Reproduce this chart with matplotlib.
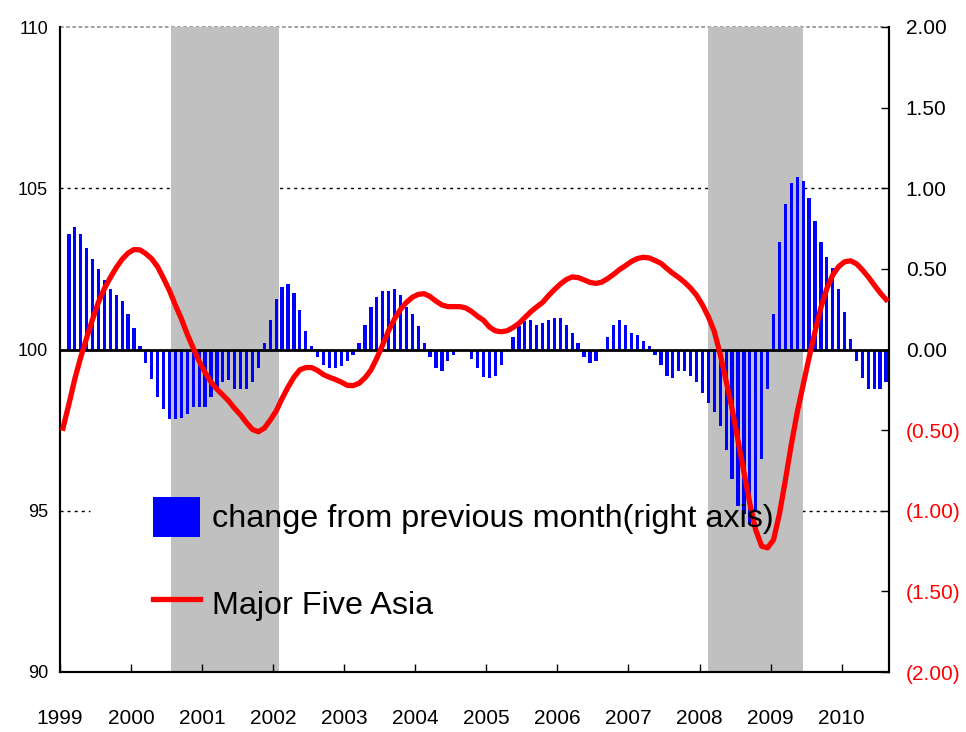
import matplotlib
matplotlib.use('Agg')
import matplotlib.pyplot as plt
from matplotlib.patches import Patch
from matplotlib.lines import Line2D
import numpy as np

# monthly data, Jan 1999 .. Aug 2010
years = [str(y) for y in range(1999, 2011)]
# Major Five Asia index (left axis)
asia_index = [
    97.56, 98.30, 99.09, 99.76, 100.36, 100.94, 101.47, 101.89, 102.23, 102.54, 102.80, 102.99,
    103.10, 103.09, 102.97, 102.81, 102.56, 102.20, 101.82, 101.37, 100.95, 100.47, 100.04, 99.64,
    99.29, 98.99, 98.77, 98.59, 98.40, 98.17, 97.97, 97.73, 97.52, 97.45, 97.56, 97.81,
    98.09, 98.48, 98.83, 99.14, 99.37, 99.44, 99.44, 99.35, 99.22, 99.14, 99.07, 98.99,
    98.89, 98.88, 98.95, 99.12, 99.36, 99.73, 100.15, 100.59, 100.95, 101.24, 101.46, 101.62,
    101.71, 101.73, 101.64, 101.50, 101.38, 101.33, 101.33, 101.33, 101.29, 101.18, 101.03, 100.91,
    100.70, 100.58, 100.55, 100.58, 100.68, 100.81, 100.99, 101.17, 101.32, 101.46, 101.67, 101.86,
    102.03, 102.17, 102.25, 102.23, 102.16, 102.08, 102.05, 102.09, 102.20, 102.33, 102.48, 102.60,
    102.73, 102.82, 102.86, 102.84, 102.76, 102.67, 102.51, 102.36, 102.23, 102.08, 101.90, 101.68,
    101.38, 101.01, 100.56, 99.85, 99.02, 98.16, 97.18, 96.20, 95.22, 94.40, 93.90, 93.85,
    94.10, 94.90, 95.95, 97.05, 98.05, 98.90, 99.75, 100.55, 101.30, 101.89, 102.31, 102.57,
    102.72, 102.75, 102.66, 102.47, 102.25, 102.00, 101.76, 101.55]
# change from previous month (right axis), Feb 1999 .. Aug 2010
monthly_change = [
    0.717, 0.761, 0.717, 0.630, 0.562, 0.500, 0.432, 0.376, 0.339, 0.302, 0.221,
    0.134, 0.023, -0.083, -0.186, -0.294, -0.368, -0.434, -0.434, -0.422, -0.397, -0.356, -0.356,
    -0.356, -0.294, -0.246, -0.200, -0.188, -0.244, -0.244, -0.244, -0.200, -0.114, 0.039, 0.182,
    0.312, 0.387, 0.405, 0.349, 0.244, 0.114, 0.021, -0.045, -0.095, -0.114, -0.114, -0.100,
    -0.070, -0.035, 0.038, 0.150, 0.262, 0.323, 0.361, 0.361, 0.373, 0.336, 0.262, 0.218,
    0.144, 0.038, -0.049, -0.116, -0.134, -0.072, -0.035, 0.0, 0.0, -0.060, -0.116, -0.168,
    -0.178, -0.165, -0.098, 0.0, 0.077, 0.147, 0.175, 0.181, 0.150, 0.162, 0.181, 0.193,
    0.193, 0.150, 0.100, 0.038, -0.047, -0.085, -0.072, 0.0, 0.077, 0.150, 0.182, 0.151,
    0.102, 0.089, 0.054, 0.023, -0.033, -0.095, -0.163, -0.176, -0.132, -0.132, -0.163, -0.200,
    -0.269, -0.331, -0.387, -0.473, -0.622, -0.802, -0.970, -1.020, -1.080, -1.000, -0.680, -0.245,
    0.221, 0.668, 0.903, 1.034, 1.071, 1.046, 0.941, 0.798, 0.668, 0.575, 0.506, 0.376,
    0.234, 0.066, -0.070, -0.176, -0.244, -0.244, -0.244, -0.200]
# recession periods (month index start/end)
recessions = [(18.2, 36.5), (108.85, 125.05)]
right_ticks = [-2.0, -1.5, -1.0, -0.5, 0.0, 0.5, 1.0, 1.5, 2.0]
left_ticks = [90, 95, 100, 105, 110]

plt.rcParams['font.family'] = ['Liberation Sans', 'DejaVu Sans']

fig = plt.figure(figsize=(9.66, 7.32), dpi=100)
ax = fig.add_axes([60/966, 60/732, 829/966, 645/732])   # bars, right scale
ax2 = ax.twinx()                                          # line, left scale

x_line = np.arange(len(asia_index))
x_bar = np.arange(1, len(monthly_change)+1)

# grid lines (dotted), interrupted by bands and legend
ax.axhline(1.0, color='black', lw=1.0, dashes=(2.2, 2.9), zorder=0.5)
ax.axhline(-1.0, xmin=0, xmax=0.036, color='black', lw=1.0, dashes=(2.2, 2.9), zorder=0.5)
ax.axhline(-1.0, xmin=0.895, xmax=1, color='black', lw=1.0, dashes=(2.2, 2.9), zorder=0.5)
ax.axhline(2.0, color='#909090', lw=1.2, dashes=(2.2, 1.5), zorder=0.5, clip_on=False)

for a, b in recessions:
    ax.axvspan(a, b, color='#c0c0c0', lw=0, zorder=1)

ax.bar(x_bar, monthly_change, width=0.55, color='#0000ff', lw=0, zorder=2)
ax.axhline(0, color='black', lw=2.0, zorder=3)

ax2.plot(x_line, asia_index, color='#ff0000', lw=3.8, zorder=5)

ax.set_xlim(-0.5, len(asia_index)-0.5)
ax.set_ylim(-2, 2)
ax2.set_ylim(90, 110)

# x axis
xt = [12*k - 0.5 for k in range(len(years))]
ax.set_xticks(xt)
ax.set_xticklabels(years, fontsize=15)
ax.tick_params(axis='x', direction='in', length=6, width=1.0, pad=27)

# right axis labels: negatives in red with brackets
ax.yaxis.tick_right()
ax.set_yticks(right_ticks)
lab = []
for v in right_ticks:
    if v < 0:
        lab.append('({:.2f})'.format(-v))
    else:
        lab.append('{:.2f}'.format(v))
ax.set_yticklabels(lab, fontsize=15)
for t, v in zip(ax.get_yticklabels(), right_ticks):
    if v < 0:
        t.set_color('#ff0000')
ax.tick_params(axis='y', direction='in', length=6, width=1.0, pad=12)

ax2.yaxis.tick_left()
ax2.set_yticks(left_ticks)
ax2.set_yticklabels([str(v) for v in left_ticks], fontsize=13)
ax2.tick_params(axis='y', length=0, pad=8.5)

for a in (ax, ax2):
    a.spines['top'].set_visible(False)
    a.spines['left'].set_linewidth(1.5)
    a.spines['right'].set_linewidth(1.5)
    a.spines['bottom'].set_linewidth(1.5)

handles = [Patch(facecolor='#0000ff', edgecolor='none'),
           Line2D([], [], color='#ff0000', lw=3.8)]
labels = ['change from previous month(right axis)', 'Major Five Asia']
leg = ax2.legend(handles, labels, loc='center left', bbox_to_anchor=(153/966, 1-560/732),
                 bbox_transform=fig.transFigure, frameon=False, fontsize=23.3,
                 handlelength=1.45, handleheight=1.5, handletextpad=0.37,
                 labelspacing=1.45, borderpad=0, borderaxespad=0)

plt.savefig('out.png', dpi=100)
plt.close()
